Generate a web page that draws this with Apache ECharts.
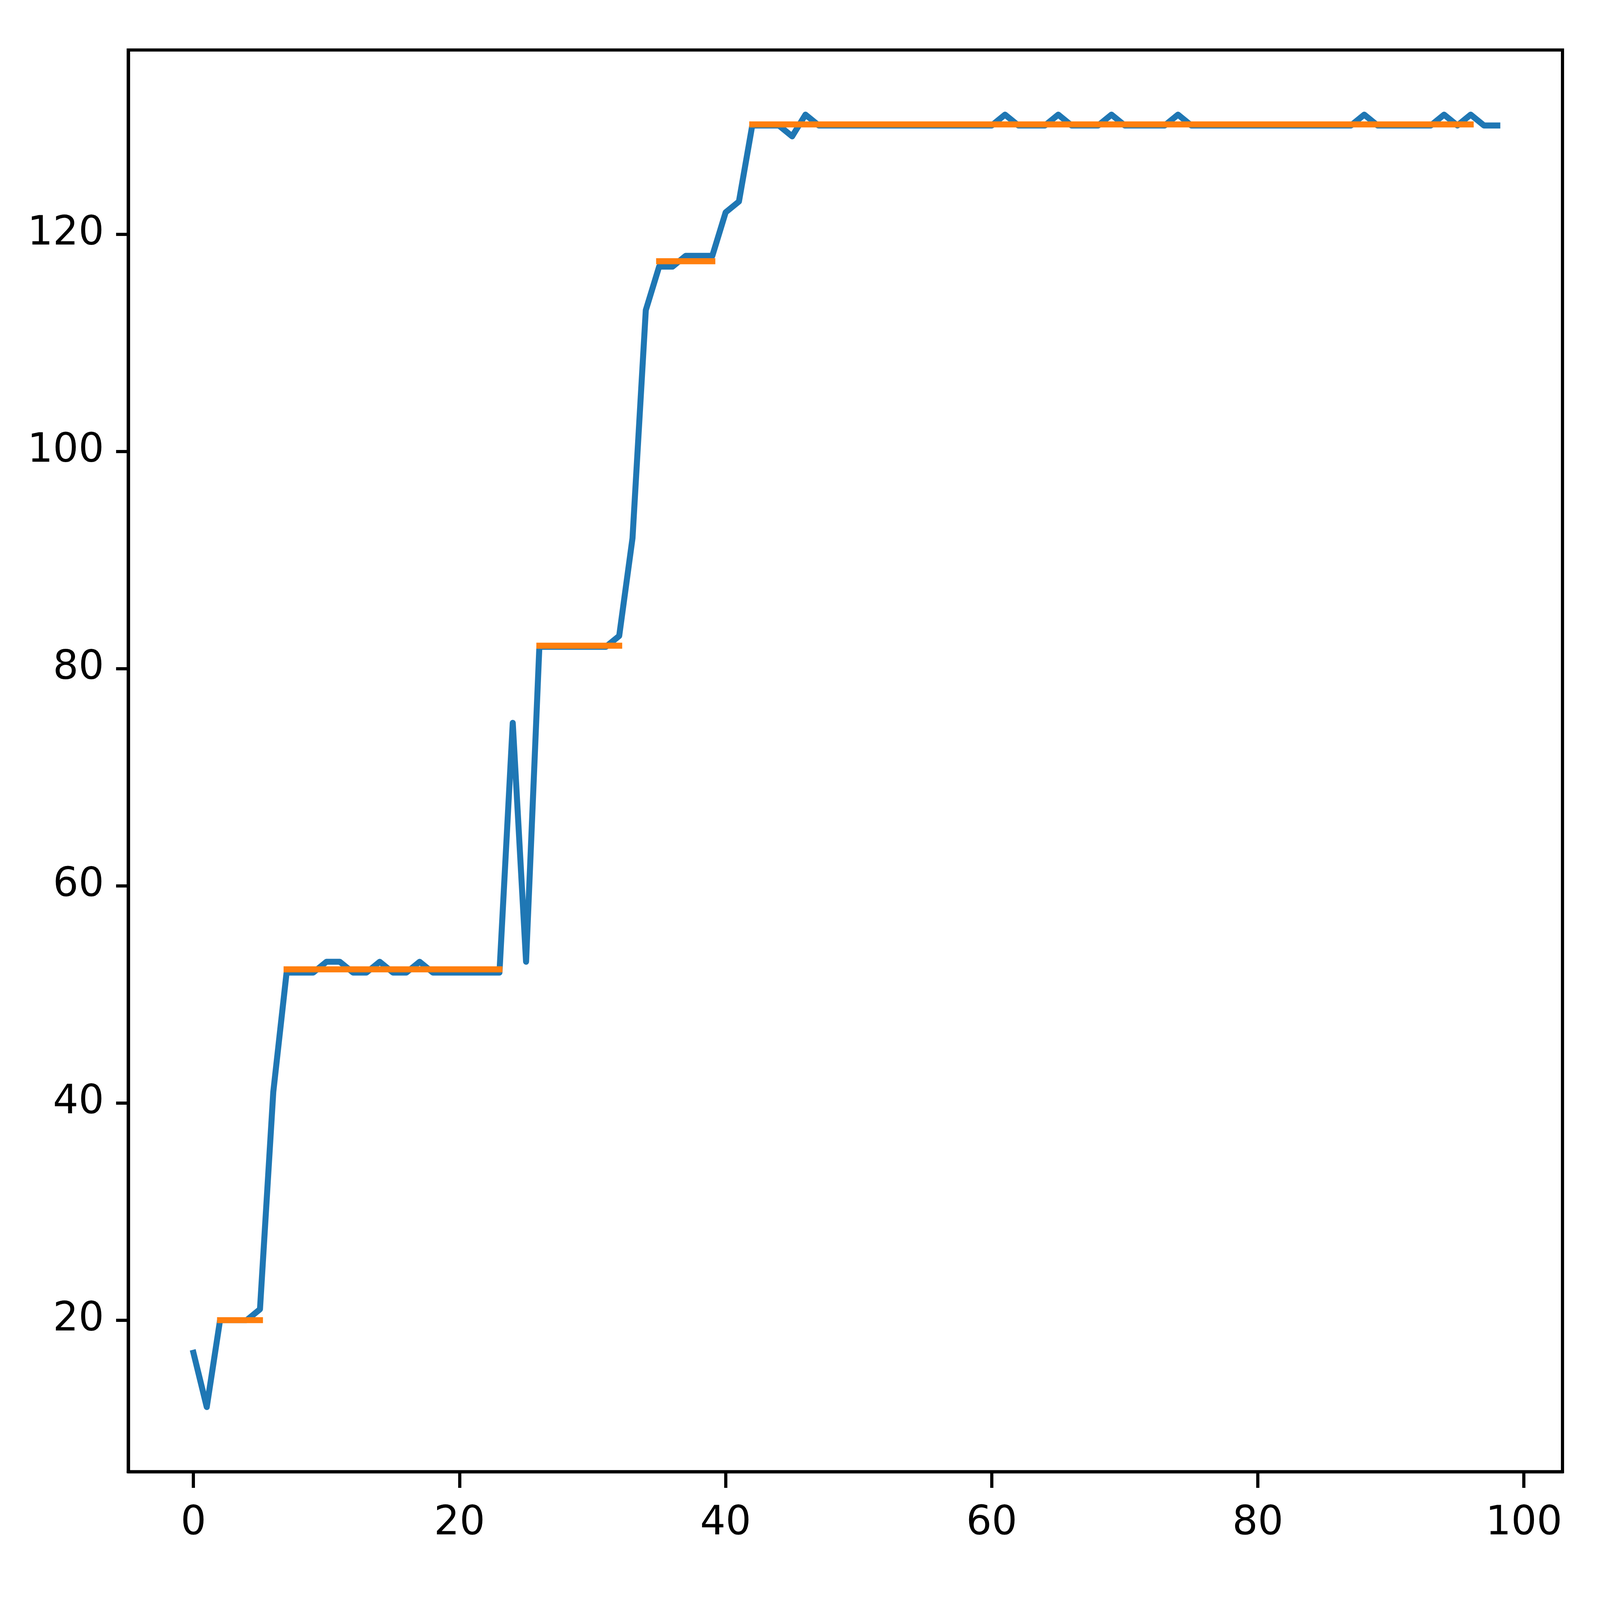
<!DOCTYPE html>
<html>
<head>
<meta charset="utf-8">
<script src="https://cdn.jsdelivr.net/npm/echarts@6/dist/echarts.min.js"></script>
<style>
  html, body { margin: 0; padding: 0; background: #fff; overflow: hidden; }
  #chart { position: absolute; left: 0; top: 0; }
</style>
</head>
<body>
<div id="chart"></div>
<script>
// measured series, x = sample index 0..98
const rawValues = [
  17, 12, 20, 20, 20, 21, 41, 52, 52, 52,
  53, 53, 52, 52, 53, 52, 52, 53, 52, 52,
  52, 52, 52, 52, 75, 53, 82, 82, 82, 82,
  82, 82, 83, 92, 113, 117, 117, 118, 118, 118,
  122, 123, 130, 130, 130, 129, 131, 130, 130, 130,
  130, 130, 130, 130, 130, 130, 130, 130, 130, 130,
  130, 131, 130, 130, 130, 131, 130, 130, 130, 131,
  130, 130, 130, 130, 131, 130, 130, 130, 130, 130,
  130, 130, 130, 130, 130, 130, 130, 130, 131, 130,
  130, 130, 130, 130, 131, 130, 131, 130, 130
];

// step levels (orange)
const segStart = [2, 7, 26, 35, 42];
const segEnd   = [5, 23, 32, 39, 96];
const segLevel = [20, 52.3, 82.1, 117.5, 130.1];

const xTicks = [0, 20, 40, 60, 80, 100];
const yTicks = [20, 40, 60, 80, 100, 120];

// layout is designed for 6400x4800; fill whatever the window really is
const W = window.innerWidth || 6400;
const H = window.innerHeight || 4800;
const sx = W / 6400, sy = H / 4800;
const s = Math.sqrt(sx * sy);
const el = document.getElementById('chart');
el.style.width = W + 'px';
el.style.height = H + 'px';

const chart = echarts.init(el, null, { renderer: 'canvas' });

const BLUE = '#1f77b4';
const ORANGE = '#ff7f0e';
const LW = 20.8 * s;
const font = { fontFamily: 'DejaVu Sans', fontSize: 139 * s, color: '#000' };

const series = [{
  type: 'line',
  data: rawValues.map((v, i) => [i, v]),
  symbol: 'none',
  lineStyle: { color: BLUE, width: LW, cap: 'square', join: 'round' },
  z: 2
}];

segLevel.forEach((lv, k) => {
  series.push({
    type: 'line',
    data: [[segStart[k], lv], [segEnd[k], lv]],
    symbol: 'none',
    lineStyle: { color: ORANGE, width: LW, cap: 'square' },
    z: 3
  });
});

function axis(ticks, min, max, k) {
  return {
    type: 'value',
    min: min, max: max,
    axisLine: { show: true, onZero: false, lineStyle: { color: '#000', width: 11 * s } },
    axisTick: { show: true, inside: false, length: 48.6 * k, customValues: ticks,
                lineStyle: { color: '#000', width: 11 * s } },
    splitLine: { show: false },
    axisLabel: Object.assign({ margin: 97 * k, customValues: ticks }, font)
  };
}

chart.setOption({
  animation: false,
  backgroundColor: '#fff',
  grid: {
    left: 513 * sx, right: 150 * sx, top: 150 * sy, bottom: 385 * sy,
    show: true, borderColor: '#000', borderWidth: 11 * s,
    outerBoundsMode: 'none'
  },
  xAxis: axis(xTicks, -4.9, 102.9, sy),
  yAxis: axis(yTicks, 6.05, 136.95, sx),
  series: series
});
</script>
</body>
</html>
